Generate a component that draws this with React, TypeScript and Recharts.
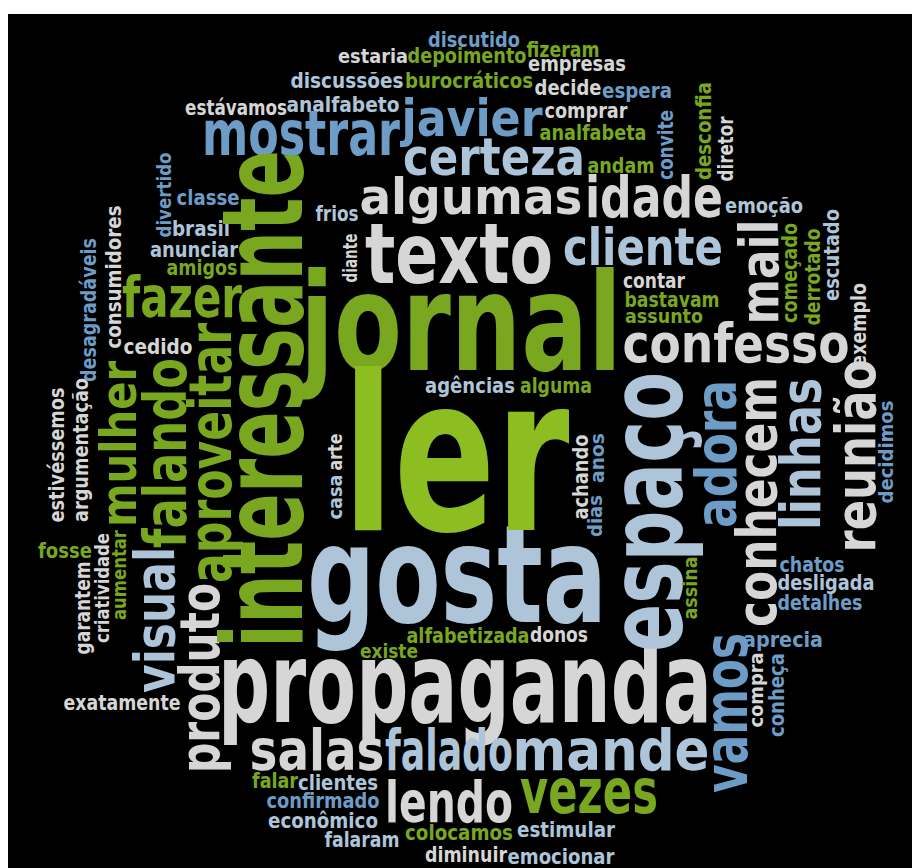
import React from 'react'
import { ScatterChart, Scatter, XAxis, YAxis } from 'recharts'

// each entry: word, x, y, weight (font size), span (drawn length), rotated (1 = reads bottom-up)
type Entry = [string, number, number, number, number, number]

const grayWords: Entry[] = [
  ['estávamos', 236, 115, 21, 102, 0],
  ['estaria', 373, 63, 20, 70, 0],
  ['empresas', 577, 71, 21, 98, 0],
  ['decide', 568, 95, 21, 67, 0],
  ['comprar', 586, 118, 21, 83, 0],
  ['algumas', 471, 214, 49, 223, 0],
  ['idade', 654, 217, 57, 138, 0],
  ['cedido', 158, 354, 21, 69, 0],
  ['texto', 459, 283, 84, 188, 0],
  ['contar', 654, 288, 21, 62, 0],
  ['confesso', 736, 362, 54, 227, 0],
  ['propaganda', 465, 722, 112, 494, 0],
  ['donos', 559, 642, 21, 58, 0],
  ['salas', 317, 770, 57, 135, 0],
  ['lendo', 449, 822, 57, 128, 0],
  ['diminuir', 466, 862, 21, 82, 0],
  ['exatamente', 122, 710, 22, 117, 0],
  ['diretor', 733, 149, 21, 65, 1],
  ['consumidores', 121, 277, 21, 143, 1],
  ['diante', 357, 258, 20, 49, 1],
  ['mail', 778, 272, 54, 105, 1],
  ['exemplo', 866, 325, 21, 84, 1],
  ['conhecem', 776, 502, 56, 250, 1],
  ['reunião', 875, 456, 56, 193, 1],
  ['compra', 763, 690, 20, 75, 1],
  ['produto', 219, 678, 55, 190, 1],
  ['criatividade', 109, 588, 20, 110, 1],
  ['garantem', 90, 608, 21, 93, 1],
  ['estivéssemos', 64, 455, 21, 135, 1],
  ['argumentação', 88, 450, 21, 144, 1],
  ['arte', 342, 452, 20, 37, 1],
  ['achando', 588, 477, 21, 85, 1],
]

const paleBlueWords: Entry[] = [
  ['analfabeto', 343, 112, 21, 113, 0],
  ['discussões', 347, 88, 21, 113, 0],
  ['certeza', 494, 175, 51, 182, 0],
  ['frios', 337, 221, 21, 43, 0],
  ['emoção', 764, 213, 21, 78, 0],
  ['brasil', 201, 236, 21, 58, 0],
  ['anunciar', 194, 257, 21, 88, 0],
  ['cliente', 643, 265, 52, 160, 0],
  ['agências', 470, 393, 21, 90, 0],
  ['desligada', 826, 590, 21, 97, 0],
  ['mande', 611, 770, 57, 197, 0],
  ['falado', 449, 770, 57, 128, 0],
  ['clientes', 338, 790, 21, 80, 0],
  ['econômico', 323, 828, 21, 110, 0],
  ['falaram', 362, 847, 21, 75, 0],
  ['estimular', 566, 837, 21, 98, 0],
  ['emocionar', 561, 864, 21, 107, 0],
  ['gosta', 457, 622, 135, 300, 0],
  ['escutado', 839, 255, 21, 92, 1],
  ['espaço', 682, 512, 102, 280, 1],
  ['linhas', 820, 454, 55, 152, 1],
  ['visual', 174, 620, 55, 146, 1],
  ['casa', 342, 497, 20, 45, 1],
]

const blueWords: Entry[] = [
  ['mostrar', 301, 155, 62, 198, 0],
  ['classe', 208, 205, 21, 63, 0],
  ['discutido', 474, 47, 21, 92, 0],
  ['espera', 637, 98, 21, 70, 0],
  ['javier', 472, 136, 52, 141, 0],
  ['chatos', 812, 572, 21, 65, 0],
  ['detalhes', 820, 610, 21, 85, 0],
  ['aprecia', 783, 647, 21, 80, 0],
  ['confirmado', 323, 808, 21, 113, 0],
  ['divertido', 171, 195, 20, 85, 1],
  ['convite', 673, 145, 21, 70, 1],
  ['desagradáveis', 96, 310, 21, 144, 1],
  ['adora', 736, 454, 57, 148, 1],
  ['decidimos', 893, 452, 20, 103, 1],
  ['vamos', 747, 713, 60, 160, 1],
  ['conheça', 784, 695, 21, 84, 1],
  ['dias', 602, 516, 20, 42, 1],
  ['anos', 604, 458, 20, 50, 1],
]

const greenWords: Entry[] = [
  ['fizeram', 563, 57, 21, 73, 0],
  ['depoimento', 467, 63, 21, 119, 0],
  ['burocráticos', 469, 88, 21, 128, 0],
  ['analfabeta', 593, 140, 22, 107, 0],
  ['andam', 621, 173, 22, 67, 0],
  ['amigos', 202, 275, 21, 71, 0],
  ['fazer', 182, 317, 57, 120, 0],
  ['jornal', 461, 370, 135, 322, 0],
  ['alguma', 556, 393, 21, 72, 0],
  ['bastavam', 672, 307, 21, 95, 0],
  ['assunto', 664, 323, 20, 78, 0],
  ['vezes', 589, 813, 62, 138, 0],
  ['existe', 389, 658, 20, 58, 0],
  ['alfabetizada', 468, 643, 21, 123, 0],
  ['falar', 275, 788, 21, 46, 0],
  ['colocamos', 459, 840, 21, 108, 0],
  ['fosse', 65, 558, 21, 54, 0],
  ['interessante', 302, 399, 112, 498, 1],
  ['desconfia', 711, 131, 22, 98, 1],
  ['mulher', 136, 444, 50, 166, 1],
  ['falando', 186, 453, 58, 190, 1],
  ['aproveitar', 231, 453, 58, 260, 1],
  ['começado', 797, 273, 21, 100, 1],
  ['derrotado', 820, 277, 21, 97, 1],
  ['assina', 697, 588, 20, 63, 1],
  ['aumentar', 126, 575, 20, 90, 1],
]

const limeWords: Entry[] = [
  ['ler', 456, 530, 216, 227, 0],
]

const series = [
  { name: 'cinza', color: '#d6d6d6', items: grayWords },
  { name: 'azul-claro', color: '#aec5d9', items: paleBlueWords },
  { name: 'azul', color: '#6d9dc6', items: blueWords },
  { name: 'verde', color: '#79a71f', items: greenWords },
  { name: 'verde-claro', color: '#8cbd21', items: limeWords },
]

const toPoints = (items: Entry[]) =>
  items.map(([word, x, y, weight, span, rotated]) => ({ word, x, y, weight, span, rotated }))

const WordShape = (props: any) => {
  const { cx, cy, payload, fill } = props
  if (cx == null || cy == null) return null
  return (
    <text
      x={cx}
      y={cy}
      transform={payload.rotated ? `rotate(-90 ${cx} ${cy})` : undefined}
      textAnchor="middle"
      fontFamily="'Liberation Sans Narrow', 'DejaVu Sans Condensed', sans-serif"
      fontWeight={700}
      fontSize={payload.weight}
      textLength={payload.span}
      lengthAdjust="spacingAndGlyphs"
      fill={fill}
    >
      {payload.word}
    </text>
  )
}

export default function App() {
  return (
    <div style={{ position: 'absolute', left: 0, top: 0, width: 912, height: 868, background: '#fff', overflow: 'hidden' }}>
      <style>{'body{margin:0;overflow:hidden}'}</style>
      <div style={{ position: 'absolute', left: 8, top: 14, width: 904, height: 854, background: '#000' }}>
        <ScatterChart width={904} height={854} margin={{ top: 0, right: 0, bottom: 0, left: 0 }}>
          <XAxis type="number" dataKey="x" domain={[8, 912]} allowDataOverflow hide />
          <YAxis type="number" dataKey="y" domain={[14, 868]} allowDataOverflow reversed hide />
          {series.map((s) => (
            <Scatter
              key={s.name}
              name={s.name}
              data={toPoints(s.items)}
              fill={s.color}
              shape={WordShape}
              isAnimationActive={false}
            />
          ))}
        </ScatterChart>
      </div>
    </div>
  )
}
